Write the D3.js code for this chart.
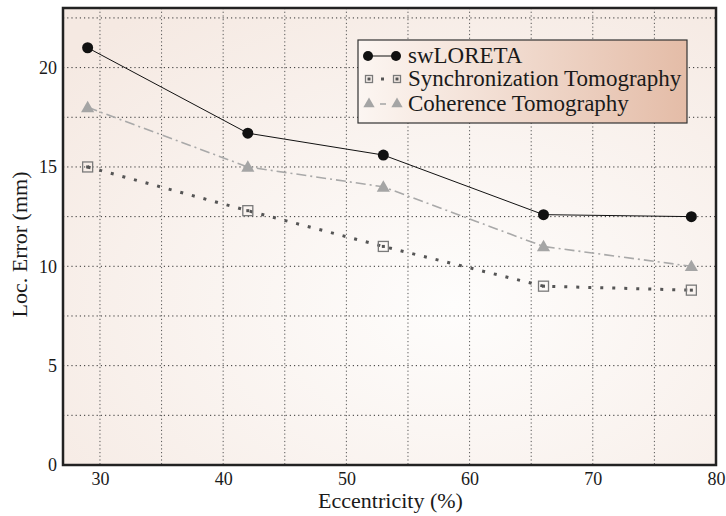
<!DOCTYPE html>
<html>
<head>
<meta charset="utf-8">
<script src="https://cdn.jsdelivr.net/npm/d3@7"></script>
<style>
  body { margin: 0; background: #fff; }
  text { font-family: "Liberation Serif", "Times New Roman", Times, serif; fill: #1a1a1a; }
</style>
</head>
<body>
<div id="chartArea"></div>
<script>
// data setup
var eccentricity = [29, 42, 53, 66, 78];
var swLoreta = [21, 16.7, 15.6, 12.6, 12.5];
var syncTomo = [15, 12.8, 11, 9, 8.8];
var cohTomo = [18, 15, 14, 11, 10];
var xTicks = [30, 40, 50, 60, 70, 80];
var yTicks = [0, 5, 10, 15, 20];
var seriesNames = ["swLORETA", "Synchronization Tomography", "Coherence Tomography"];

// set the dimensions and margins of the graph
var margin = { top: 8, right: 10, bottom: 51, left: 63 },
  width = 726 - margin.left - margin.right,
  height = 516 - margin.top - margin.bottom;

var x = d3.scaleLinear().domain([27, 80]).range([0, width]);
var y = d3.scaleLinear().domain([0, 23]).range([height, 0]);

var svg = d3.select("#chartArea").append("svg")
  .attr("width", 726)
  .attr("height", 516);

var defs = svg.append("defs");
var bg = defs.append("radialGradient").attr("id", "bgGrad")
  .attr("cx", "60%").attr("cy", "65%").attr("r", "80%");
bg.append("stop").attr("offset", "0%").attr("stop-color", "#fefdfc");
bg.append("stop").attr("offset", "100%").attr("stop-color", "#f5e9e2");

var lg = defs.append("linearGradient").attr("id", "legGrad")
  .attr("x1", "0%").attr("x2", "100%").attr("y1", "0%").attr("y2", "0%");
lg.append("stop").attr("offset", "0%").attr("stop-color", "#fcf6f2");
lg.append("stop").attr("offset", "100%").attr("stop-color", "#e4bca7");

var g = svg.append("g")
  .attr("transform", "translate(" + margin.left + "," + margin.top + ")");

// plot background
g.append("rect")
  .attr("width", width).attr("height", height)
  .attr("fill", "url(#bgGrad)");

// grid lines
var hGrid = d3.range(2.5, 23, 2.5);
g.selectAll(".hgrid").data(hGrid).enter().append("line")
  .attr("x1", 0).attr("x2", width)
  .attr("y1", d => y(d)).attr("y2", d => y(d))
  .attr("stroke", "#333").attr("stroke-width", 1)
  .attr("stroke-dasharray", "1.2,3");

var vGrid = d3.range(30, 80, 5);
g.selectAll(".vgrid").data(vGrid).enter().append("line")
  .attr("x1", d => x(d)).attr("x2", d => x(d))
  .attr("y1", 0).attr("y2", height)
  .attr("stroke", "#555").attr("stroke-width", 1)
  .attr("stroke-dasharray", "1.2,2.5");

// axes
var xAxis = g.append("g")
  .attr("transform", "translate(0," + height + ")")
  .call(d3.axisBottom(x).tickValues(xTicks).tickSize(0).tickPadding(7));
var yAxis = g.append("g")
  .call(d3.axisLeft(y).tickValues(yTicks).tickSize(0).tickPadding(6));
[xAxis, yAxis].forEach(function(a) {
  a.attr("font-family", null);
  a.select(".domain").remove();
  a.selectAll("text").attr("font-size", 18).attr("fill", "#1a1a1a");
});

// lines
var pts = function(vals) {
  return eccentricity.map(function(e, i) { return [e, vals[i]]; });
};
var line = d3.line().x(d => x(d[0])).y(d => y(d[1]));

g.append("path").datum(pts(cohTomo))
  .attr("d", line).attr("fill", "none")
  .attr("stroke", "#a9a9a9").attr("stroke-width", 1.6)
  .attr("stroke-dasharray", "10,4,2,4");

g.append("path").datum(pts(syncTomo))
  .attr("d", line).attr("fill", "none")
  .attr("stroke", "#555").attr("stroke-width", 3)
  .attr("stroke-dasharray", "3,9");

g.append("path").datum(pts(swLoreta))
  .attr("d", line).attr("fill", "none")
  .attr("stroke", "#111").attr("stroke-width", 1);

// markers
function triangle(sel, cx, cy, s) {
  sel.append("path")
    .attr("d", d3.symbol().type(d3.symbolTriangle).size(s || 75)())
    .attr("transform", "translate(" + cx + "," + (cy + 1) + ")")
    .attr("fill", "#a5a5a5");
}
function square(sel, cx, cy, h) {
  h = h || 5;
  sel.append("rect")
    .attr("x", cx - h).attr("y", cy - h).attr("width", 2 * h).attr("height", 2 * h)
    .attr("fill", "none").attr("stroke", "#7a7a7a").attr("stroke-width", 1.3);
  sel.append("rect")
    .attr("x", cx - 1.5).attr("y", cy - 1.5).attr("width", 3).attr("height", 3)
    .attr("fill", "#555");
}
function dot(sel, cx, cy, r) {
  sel.append("circle").attr("cx", cx).attr("cy", cy).attr("r", r || 5.5).attr("fill", "#111");
}

pts(cohTomo).forEach(d => triangle(g, x(d[0]), y(d[1])));
pts(syncTomo).forEach(d => square(g, x(d[0]), y(d[1])));
pts(swLoreta).forEach(d => dot(g, x(d[0]), y(d[1])));

// frame
g.append("rect")
  .attr("width", width).attr("height", height)
  .attr("fill", "none").attr("stroke", "#222").attr("stroke-width", 2.5);

// axis titles
svg.append("text")
  .attr("x", margin.left + width / 2 + 1).attr("y", 508)
  .attr("text-anchor", "middle").attr("font-size", 22)
  .text("Eccentricity (%)");
svg.append("text")
  .attr("transform", "translate(27," + (margin.top + height / 2 + 8) + ") rotate(-90)")
  .attr("text-anchor", "middle").attr("font-size", 22)
  .text("Loc. Error (mm)");

// legend
var leg = svg.append("g").attr("transform", "translate(358,40)");
leg.append("rect")
  .attr("width", 329).attr("height", 83)
  .attr("fill", "url(#legGrad)").attr("stroke", "#333").attr("stroke-width", 1.2);

var rowY = [16, 39, 64];
// swLORETA
leg.append("line").attr("x1", 10).attr("x2", 38).attr("y1", rowY[0]).attr("y2", rowY[0])
  .attr("stroke", "#111").attr("stroke-width", 1);
dot(leg, 10, rowY[0], 5);
dot(leg, 38, rowY[0], 5);
// sync
leg.append("rect").attr("x", 23).attr("y", rowY[1] - 1.5).attr("width", 3).attr("height", 3)
  .attr("fill", "#555");
square(leg, 11, rowY[1], 3.5);
square(leg, 39, rowY[1], 3.5);
// coherence
leg.append("line").attr("x1", 22).attr("x2", 28).attr("y1", rowY[2]).attr("y2", rowY[2])
  .attr("stroke", "#a9a9a9").attr("stroke-width", 1.6);
triangle(leg, 11, rowY[2] - 1, 55);
triangle(leg, 39, rowY[2] - 1, 55);

leg.selectAll(".lt").data(seriesNames).enter().append("text")
  .attr("x", 50).attr("y", (d, i) => rowY[i] + 7)
  .attr("font-size", 23)
  .text(d => d);
</script>
</body>
</html>
